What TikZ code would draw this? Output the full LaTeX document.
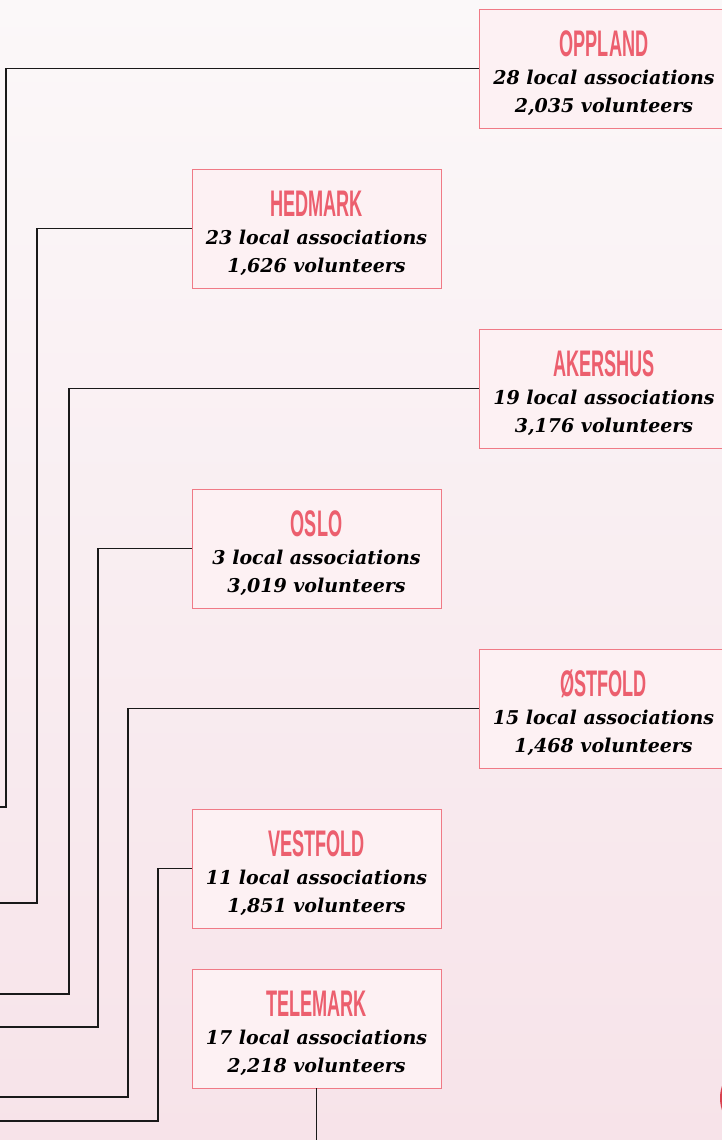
\documentclass[tikz,border=0pt]{standalone}
\usepackage{fontspec}
\usepackage{graphicx}
\setmainfont{DejaVu Serif}
\newfontfamily\headfont{Liberation Sans}
\usetikzlibrary{positioning}
\definecolor{rose}{HTML}{EC5F6E}
\definecolor{roseline}{HTML}{F07A86}
\definecolor{boxfill}{HTML}{FDF1F3}
\definecolor{bgtop}{HTML}{FBF8F9}
\definecolor{bgbot}{HTML}{F7E3E9}
\definecolor{dot}{HTML}{D9414F}
\newcommand{\county}[3]{{\headfont\upshape\bfseries\fontsize{37}{28}\selectfont\color{rose}\rule{0pt}{36pt}\scalebox{0.49}[1]{#1}}\\#2 local associations\\#3 volunteers}
\tikzset{region/.style={draw=roseline,line width=0.9pt,fill=boxfill,minimum width=249pt,minimum height=119pt,align=center,inner sep=0pt,font=\fontsize{19}{28}\selectfont\bfseries\itshape},
link/.style={draw=black!90,line width=1.2pt}}

\begin{document}
\begin{tikzpicture}[x=1pt,y=-1pt]
\useasboundingbox (0,0) rectangle (722,1140);
\clip (0,0) rectangle (722,1140);
\shade[top color=bgtop,bottom color=bgbot] (0,0) rectangle (722,1140);
\fill[dot] (758,1098) circle (38pt);

\node[region] (oppland) at (604,68.5) {\county{OPPLAND}{28}{2,035}};
\node[region] (hedmark) at (316.5,228.5) {\county{HEDMARK}{23}{1,626}};
\node[region] (akershus) at (604,388.5) {\county{AKERSHUS}{19}{3,176}};
\node[region] (oslo) at (316.5,548.5) {\county{OSLO}{3}{3,019}};
\node[region] (ostfold) at (603.5,708.5) {\county{ØSTFOLD}{15}{1,468}};
\node[region] (vestfold) at (316.5,868.5) {\county{VESTFOLD}{11}{1,851}};
\node[region] (telemark) at (316.5,1028.5) {\county{TELEMARK}{17}{2,218}};

\coordinate (oppland-bend) at (6,807);
\coordinate (oppland-end) at (-2,807);
\coordinate (hedmark-bend) at (37,903);
\coordinate (hedmark-end) at (-2,903);
\coordinate (akershus-bend) at (69,994);
\coordinate (akershus-end) at (-2,994);
\coordinate (oslo-bend) at (98,1027);
\coordinate (oslo-end) at (-2,1027);
\coordinate (ostfold-bend) at (128,1097);
\coordinate (ostfold-end) at (-2,1097);
\coordinate (vestfold-bend) at (158,1121);
\coordinate (vestfold-end) at (-2,1121);
\coordinate (telemark-end) at (316.5,1142);

\draw[link] (oppland.west) -| (oppland-bend) -- (oppland-end);
\draw[link] (hedmark.west) -| (hedmark-bend) -- (hedmark-end);
\draw[link] (akershus.west) -| (akershus-bend) -- (akershus-end);
\draw[link] (oslo.west) -| (oslo-bend) -- (oslo-end);
\draw[link] (ostfold.west) -| (ostfold-bend) -- (ostfold-end);
\draw[link] (vestfold.west) -| (vestfold-bend) -- (vestfold-end);
\draw[link] (telemark.south) -- (telemark-end);
\end{tikzpicture}
\end{document}
